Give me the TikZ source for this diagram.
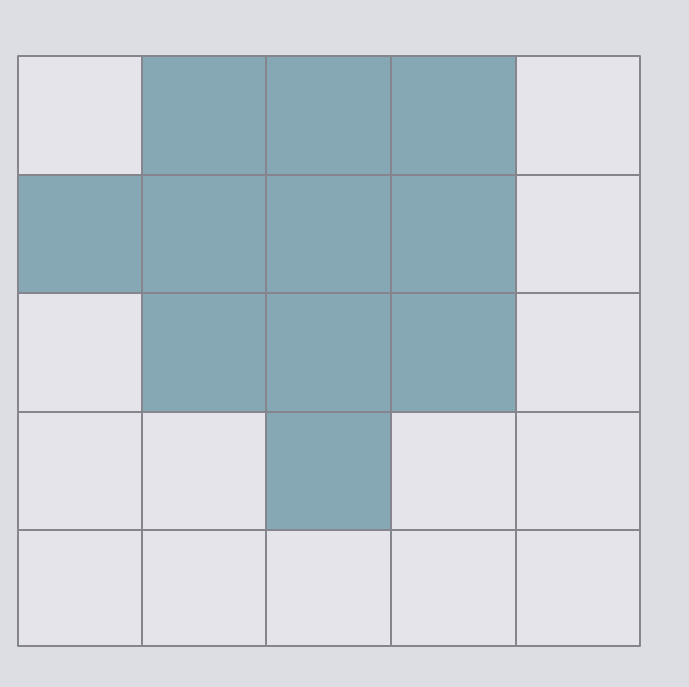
\documentclass[tikz,border=0pt]{standalone}
\begin{document}
\begin{tikzpicture}[x=1pt,y=-1pt,
  shade/.style={fill=cellblue, draw=none},
  gridline/.style={draw=linegrey, line width=1.4pt, line cap=round, line join=round}]
\definecolor{bg}{HTML}{DDDEE4}
\definecolor{paper}{HTML}{E4E4EA}
\definecolor{cellblue}{HTML}{86A8B5}
\definecolor{linegrey}{HTML}{85858D}
\fill[bg] (0,0) rectangle (689,687);
\useasboundingbox (0,0) rectangle (689,687);
\fill[paper] (18,56) rectangle (640,646);
% shaded cells
\def\xs{{18,142,266,391,516,640}}
\def\ys{{56,175,293,412,530,646}}
\foreach \r/\c in {0/1,0/2,0/3,1/0,1/1,1/2,1/3,2/1,2/2,2/3,3/2}{
  \pgfmathsetmacro{\xa}{\xs[\c]}
  \pgfmathsetmacro{\xb}{\xs[\c+1]}
  \pgfmathsetmacro{\ya}{\ys[\r]}
  \pgfmathsetmacro{\yb}{\ys[\r+1]}
  \fill[cellblue] (\xa,\ya) rectangle (\xb,\yb);
}
% grid lines
\foreach \x in {18,142,266,391,516,640}{
  \draw[gridline] (\x,56) -- (\x,646);
}
\foreach \y in {56,175,293,412,530,646}{
  \draw[gridline] (18,\y) -- (640,\y);
}
\end{tikzpicture}
\end{document}
